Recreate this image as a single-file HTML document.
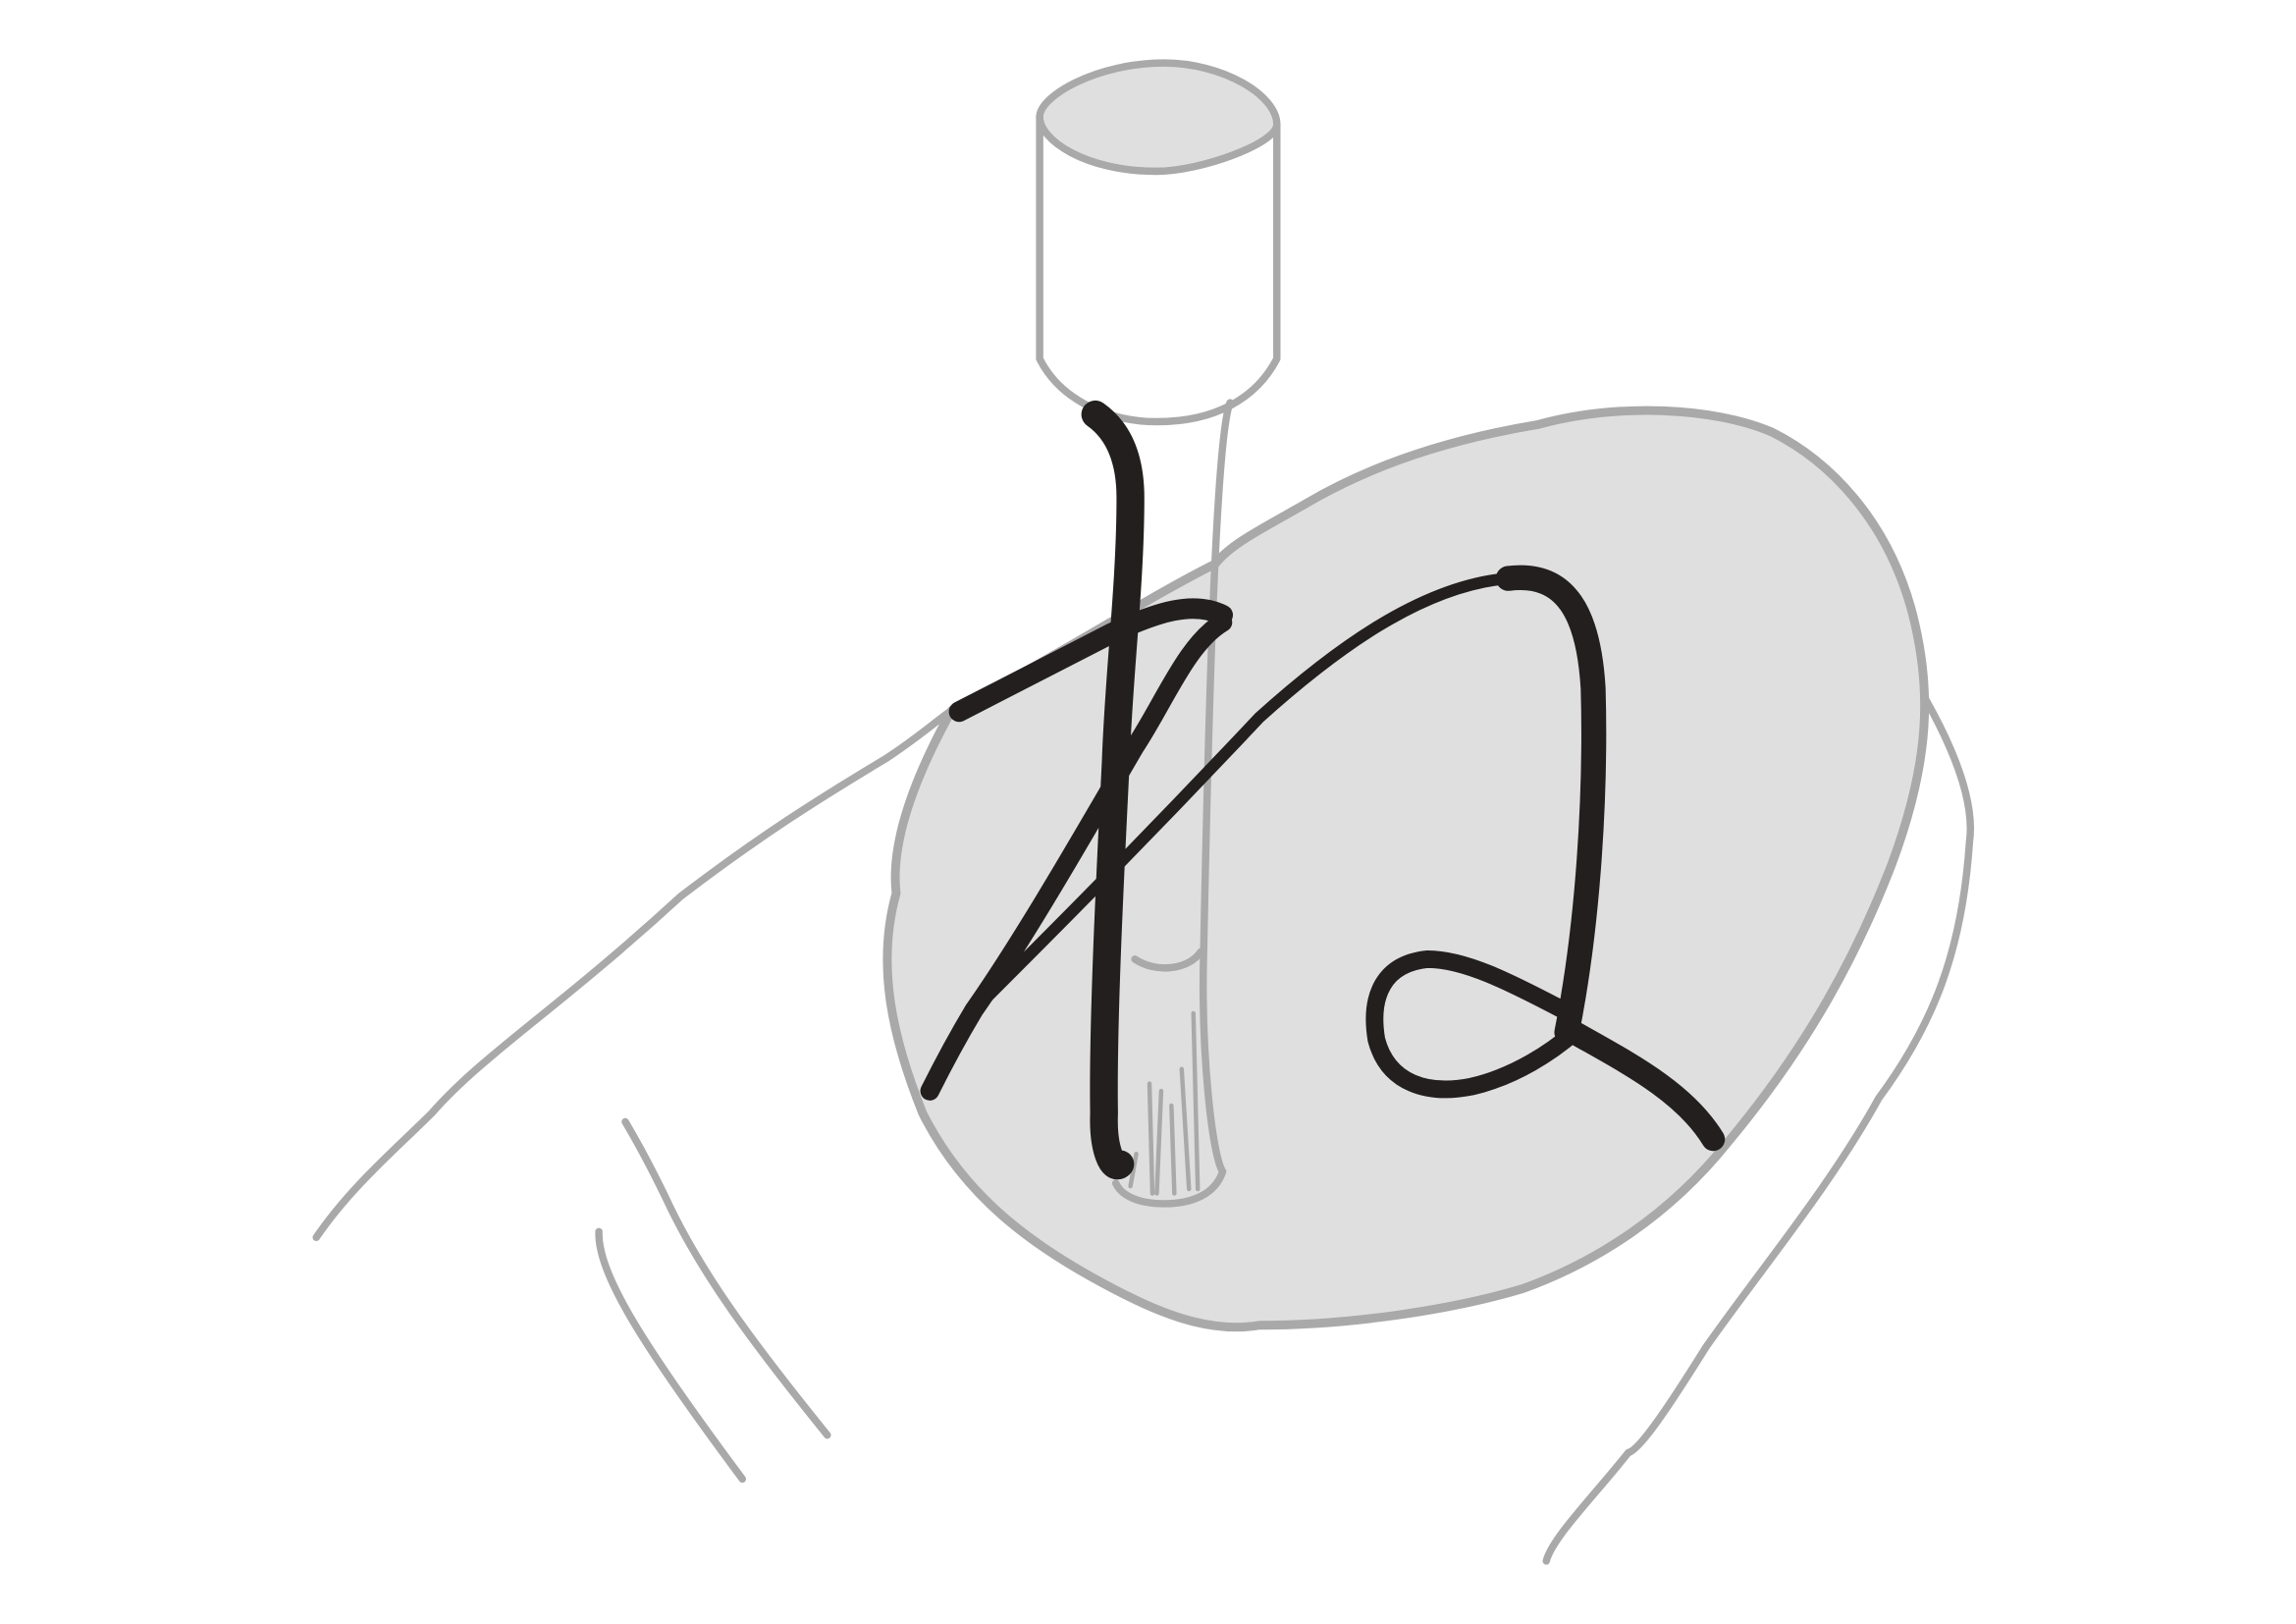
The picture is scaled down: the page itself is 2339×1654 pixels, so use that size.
<!DOCTYPE html>
<html><head><meta charset="utf-8"><style>
html,body{margin:0;padding:0;background:#fff;}
svg{display:block;}
</style></head><body>
<svg width="2339" height="1654" viewBox="0 0 1568 1109" preserveAspectRatio="none" xmlns="http://www.w3.org/2000/svg">
<g fill="none" stroke="#a9a9a9" stroke-width="5" stroke-linecap="round" stroke-linejoin="round">
  <path d="M216,845 C240,810 270,785 295,760 C330,720 380,690 465,612 C520,570 560,545 605,518 C625,505 640,492 650,485"/>
  <path d="M427,766 C440,788 450,808 458,825 C480,870 510,912 565,980"/>
  <path d="M409,841 C408,870 440,920 507,1010"/>
  <path d="M1292,440 C1325,490 1350,540 1345,575 C1340,650 1320,700 1283,750 C1250,810 1200,870 1165,920 C1140,960 1120,990 1112,992 C1090,1020 1060,1050 1056,1066"/>
  <path fill="#e0dfe0" stroke-width="6" d="M650,485 C625,530 608,575 612,610 C598,660 610,710 630,760 C660,820 710,855 770,885 C800,900 830,910 860,905 C920,905 990,895 1040,880 C1090,862 1140,830 1180,780 C1230,720 1265,660 1292,590 C1318,520 1320,470 1305,415 C1288,355 1250,315 1210,295 C1170,278 1105,275 1050,290 C990,300 935,318 890,345 C860,362 840,372 830,385 C780,410 720,450 650,485 Z"/>
  <path fill="#e0dfe0" d="M710,80 C710,65 750,43 795,43 C835,43 872,65 872,85 C872,98 820,117 790,117 C740,117 710,95 710,80 Z"/>
  <path fill="#fff" d="M710,80 L710,245 C725,275 760,288 790,288 C830,288 858,272 872,245 L872,85 C872,98 820,117 790,117 C740,117 710,95 710,80 Z"/>
  <path d="M840,275 C830,300 825,500 822,650 C820,720 828,790 835,800 C830,815 815,822 795,822 C775,822 765,815 762,808"/>
  <path d="M775,655 C790,665 812,662 820,650"/>
  <path stroke-width="3" d="M785,740 L787,815 M793,745 L790,815 M800,755 L802,815 M807,730 L812,812 M815,692 L818,812 M776,788 L772,810"/>
</g>
<g fill="none" stroke="#221f1e" stroke-linecap="round" stroke-linejoin="round">
  <path stroke-width="19" d="M748,283 C765,295 772,315 772,340 C772,400 764,460 762,520 C758,600 753,700 754,760 C753,785 760,800 765,795"/>
  <path stroke-width="14" d="M655,486 L760,432 C790,418 815,410 835,420"/>
  <path stroke-width="13" d="M835,425 C810,440 795,480 775,510 C740,570 700,640 665,690 C650,715 640,735 635,745"/>
  <path stroke-width="8" d="M675,680 C720,635 780,575 860,490 C910,445 970,400 1030,395"/>
  <path stroke-width="17" d="M1030,395 C1070,390 1085,420 1088,470 C1090,540 1085,630 1070,705"/>
  <path stroke-width="12" d="M1068,690 C1030,670 1000,655 975,655 C945,658 935,680 940,710 C948,740 975,748 1005,742 C1035,735 1060,718 1075,705"/>
  <path stroke-width="16" d="M1075,705 C1110,725 1150,745 1170,778"/>
</g>
</svg>
</body></html>
